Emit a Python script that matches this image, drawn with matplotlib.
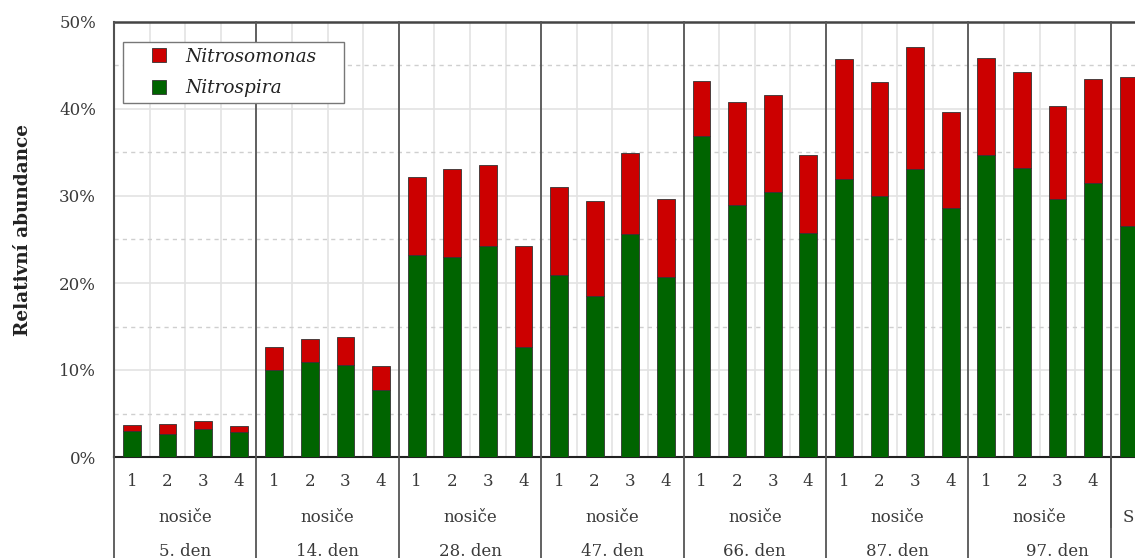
import matplotlib
matplotlib.use("Agg")
import matplotlib.pyplot as plt
import matplotlib.transforms as mtransforms
from matplotlib.lines import Line2D
import numpy as np

# ---- data -------------------------------------------------------------
days = ["5. den", "14. den", "28. den", "47. den", "66. den", "87. den", "97. den"]
carriers = ["1", "2", "3", "4"]
group_label = "nosiče"
extra_label = "S"

# Nitrospira (green, bottom) in %
nitrospira = [3.0, 2.6, 3.2, 2.9,
              10.0, 10.9, 10.6, 7.7,
              23.2, 22.95, 24.3, 12.7,
              20.9, 18.5, 25.6, 20.7,
              36.9, 29.0, 30.5, 25.7,
              32.0, 30.0, 33.1, 28.6,
              34.7, 33.2, 29.7, 31.5,
              26.6]
# total (Nitrospira + Nitrosomonas) in %
total = [3.7, 3.75, 4.1, 3.55,
         12.6, 13.6, 13.8, 10.5,
         32.2, 33.1, 33.6, 24.2,
         31.0, 29.4, 34.9, 29.7,
         43.2, 40.8, 41.6, 34.7,
         45.7, 43.1, 47.1, 39.6,
         45.9, 44.3, 40.3, 43.4,
         43.7]
nitrosomonas = [t - n for t, n in zip(total, nitrospira)]

series_names = ["Nitrosomonas", "Nitrospira"]
c_red = "#CC0000"
c_green = "#006400"

# ---- figure -----------------------------------------------------------
W, H = 1135, 558
fig = plt.figure(figsize=(W / 100, H / 100), dpi=100)
slot = 35.6
n_slots_axes = 30
ax_left = 114 / W
ax_bottom = (H - 457) / H
ax_height = 435 / H
ax_width = n_slots_axes * slot / W
ax = fig.add_axes([ax_left, ax_bottom, ax_width, ax_height])

font = "DejaVu Serif"
fs = 12
tcol = "#3a3a3a"

x = np.arange(len(nitrospira)) + 0.5
ax.bar(x, nitrospira, width=0.5, color=c_green, edgecolor="#333333", linewidth=0.6, zorder=3)
ax.bar(x, nitrosomonas, width=0.5, bottom=nitrospira, color=c_red, edgecolor="#333333",
       linewidth=0.6, zorder=3)

ax.set_xlim(0, n_slots_axes)
ax.set_ylim(0, 50)
ax.set_yticks(np.arange(0, 51, 10))
ax.set_yticks(np.arange(5, 50, 10), minor=True)
ax.set_yticklabels([f"{v}%" for v in range(0, 51, 10)], fontfamily=font, fontsize=fs,
                   color=tcol)
ax.tick_params(axis="y", which="both", length=0, pad=13)
ax.set_xticks([])
ax.set_xticks(np.arange(1, n_slots_axes), minor=True)
ax.tick_params(axis="x", which="both", length=0, labelbottom=False)

ax.grid(axis="y", which="major", color="#e3e3e3", linewidth=1.2, zorder=0)
ax.grid(axis="y", which="minor", color="#cfcfcf", linewidth=1.0, linestyle=(0, (3, 3)), zorder=0)
ax.grid(axis="x", which="minor", color="#e3e3e3", linewidth=1.2, zorder=0)

ax.spines["right"].set_visible(False)
ax.spines["top"].set_color("#444444")
ax.spines["top"].set_linewidth(1.8)
ax.spines["left"].set_color("#333333")
ax.spines["left"].set_linewidth(1.5)
ax.spines["bottom"].set_color("#222222")
ax.spines["bottom"].set_linewidth(1.5)

ax.set_ylabel("Relativní abundance", fontfamily=font, fontsize=13.3, fontweight="bold",
              color="#222222")
ax.yaxis.set_label_coords(-(114 - 32) / (n_slots_axes * slot), (457 - 230) / 435)

trans = mtransforms.blended_transform_factory(ax.transData, ax.transAxes)

def yfrac(py):
    return (457 - py) / 435

# group separators
for g in range(len(days) + 1):
    xs = g * 4
    ax.plot([xs, xs], [1, -0.35], transform=trans, color="#555555", linewidth=1.3,
            clip_on=False, zorder=4)
# separator between carriers and S in the last group
ax.plot([28, 28], [0, yfrac(527)], transform=trans, color="#555555", linewidth=1.3,
        clip_on=False, zorder=4)

# carrier numbers
for i in range(len(days) * 4):
    ax.text(i + 0.5, yfrac(481), carriers[i % 4], transform=trans, ha="center", va="center",
            fontfamily=font, fontsize=fs, color=tcol)
# group labels
for g in range(len(days)):
    ax.text(g * 4 + 2, yfrac(517), group_label, transform=trans, ha="center", va="center",
            fontfamily=font, fontsize=fs, color=tcol)
ax.text(28.5, yfrac(517), extra_label, transform=trans, ha="center", va="center",
        fontfamily=font, fontsize=fs, color=tcol)
# day labels
for g, d in enumerate(days):
    cx = g * 4 + 2 if g < len(days) - 1 else g * 4 + 2.5
    ax.text(cx, yfrac(552), d, transform=trans, ha="center", va="center",
            fontfamily=font, fontsize=fs, color=tcol)

# legend
handles = [Line2D([], [], linestyle="none", marker="s", markersize=9.5,
                  markerfacecolor=c_red, markeredgecolor="#333333", markeredgewidth=0.6),
           Line2D([], [], linestyle="none", marker="s", markersize=9.5,
                  markerfacecolor=c_green, markeredgecolor="#333333", markeredgewidth=0.6)]
leg_x0, leg_y0, leg_w, leg_h = 123 / W, 1 - 103 / H, 221 / W, 61 / H
leg = ax.legend(handles, series_names, loc="upper left", mode="expand",
                bbox_to_anchor=(leg_x0, leg_y0, leg_w, leg_h), bbox_transform=fig.transFigure,
                frameon=True, fancybox=False, edgecolor="#777777", framealpha=1,
                prop={"family": font, "style": "italic", "size": 13.3},
                handlelength=3.3, handletextpad=-0.25,
                labelspacing=0.75, borderpad=0.3, borderaxespad=0)
leg.get_frame().set_linewidth(1.0)
leg.set_zorder(10)
for t in leg.get_texts():
    t.set_color("#222222")

fig.savefig("out.png", dpi=100)
